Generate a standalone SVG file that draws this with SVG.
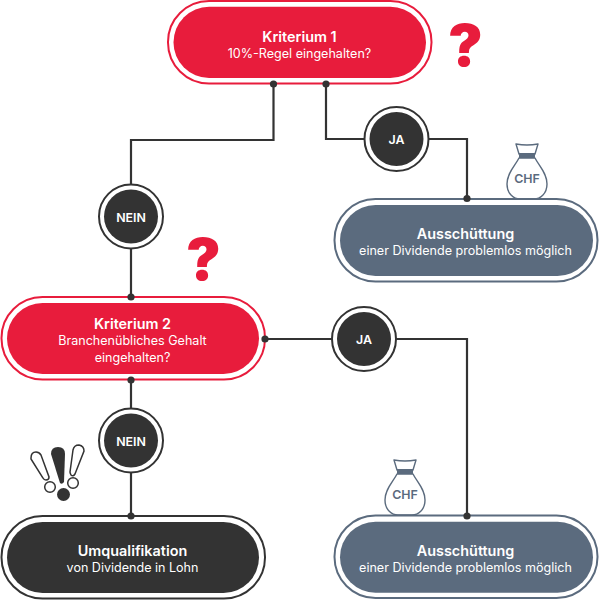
<svg xmlns="http://www.w3.org/2000/svg" width="600" height="600" viewBox="0 0 600 600">
<style>
text{font-family:"Inter","Lato","Liberation Sans",sans-serif;text-anchor:middle}
.t{font-size:14.4px;font-weight:600;fill:#fff}
.s{font-size:12.55px;font-weight:400;fill:#fff}
.c{font-size:12.4px;font-weight:600;fill:#fff}
.q{font-size:58px;font-weight:900;fill:#e81c3c}
.chf{font-size:12.4px;font-weight:600;fill:#5b6b7e}
.line{fill:none;stroke:#333;stroke-width:2.2}
.dot{fill:#333}
.red{fill:#e81c3c}.redo{fill:#fff;stroke:#e81c3c;stroke-width:2}
.slate{fill:#5b6b7e}.slateo{fill:#fff;stroke:#5b6b7e;stroke-width:2}
.dark{fill:#333}.darko{fill:#fff;stroke:#333;stroke-width:2}
.bag{fill:#fff;stroke:#5b6b7e;stroke-width:1.4;stroke-linejoin:round}
</style>
<defs>
<g id="bag">
<path class="bag" d="M-8,-27 L-11,-37 Q0,-35 11,-37 L8,-27 Z"/>
<path class="bag" d="M-8,-23 C-12,-15 -20,-8 -20,3 C-20,13 -13,18 -7,18 L7,18 C13,18 20,13 20,3 C20,-8 12,-15 8,-23 Z"/>
<path d="M-8,-28 L8,-28 L8,-23 L-8,-23 Z" fill="#5b6b7e"/>
</g>
<g id="circ">
<circle r="32" class="darko"/><circle r="27" class="dark"/>
</g>
</defs>
<g id="connectors">
<path class="line" d="M273.5,84V140H131V297"/>
<path class="line" d="M326,84V139H467V198"/>
<path class="line" d="M131,380V516"/>
<path class="line" d="M265,339H467V516"/>
</g>
<g id="k1">
<rect class="redo" x="168" y="1" width="263.500" height="82.500" rx="41"/>
<rect class="red" x="173.500" y="6.700" width="252.500" height="71.300" rx="35.600"/>
<text class="t" x="299.500" y="41.500">Kriterium 1</text>
<text class="s" x="299.500" y="57.500">10%-Regel eingehalten?</text>
</g>
<g id="q1"><text class="q" x="465.500" y="66">?</text></g>
<g id="ja1"><use href="#circ" x="396.500" y="139"/><text class="c" x="396.500" y="144.300">JA</text></g>
<g id="bag1"><use href="#bag" x="527" y="181"/><text class="chf" x="527" y="182.500">CHF</text></g>
<g id="a1">
<rect class="slateo" x="334.500" y="199" width="263" height="82.500" rx="41"/>
<rect class="slate" x="340" y="205" width="253" height="71" rx="35.500"/>
<text class="t" x="465.500" y="239">Ausschüttung</text>
<text class="s" x="465.500" y="255">einer Dividende problemlos möglich</text>
</g>
<g id="nein1"><use href="#circ" x="131" y="216.500"/><text class="c" x="131" y="221.700">NEIN</text></g>
<g id="q2"><text class="q" x="203.500" y="280">?</text></g>
<g id="k2">
<rect class="redo" x="1.500" y="297" width="263.500" height="82.500" rx="41"/>
<rect class="red" x="7" y="303" width="252" height="71" rx="35.500"/>
<text class="t" x="132.500" y="329">Kriterium 2</text>
<text class="s" x="132.500" y="345">Branchenübliches Gehalt</text>
<text class="s" x="132.500" y="361.700">eingehalten?</text>
</g>
<g id="ja2"><use href="#circ" x="364" y="339"/><text class="c" x="364" y="344.300">JA</text></g>
<g id="nein2"><use href="#circ" x="131" y="440.500"/><text class="c" x="131" y="446.300">NEIN</text></g>
<g id="warn">
<path d="M51,454 Q51,447 58,447 Q65,447 65,454 L64,482 Q62,485 60,483 Z" fill="#333"/>
<circle cx="63.500" cy="494.500" r="6.500" fill="#333"/>
<path d="M31,458 Q31,452 36,452 Q39,452 41,455 L49,477 Q49,480 46,480 Q44,480 43,478 L31,459 Z" fill="#fff" stroke="#333" stroke-width="1.500"/>
<circle cx="50" cy="487" r="5.300" fill="#fff" stroke="#333" stroke-width="1.500"/>
<path d="M73,450 Q74,445 79,445 Q84,446 84,451 L75,474 Q73,477 71,475 Q70,473 70,472 Z" fill="#fff" stroke="#333" stroke-width="1.500"/>
<circle cx="73" cy="483" r="5.300" fill="#fff" stroke="#333" stroke-width="1.500"/>
</g>
<g id="u">
<rect class="darko" x="1.500" y="516" width="263.500" height="82.500" rx="41"/>
<rect class="dark" x="7" y="522" width="252" height="71" rx="35.500"/>
<text class="t" x="132.500" y="555.500">Umqualifikation</text>
<text class="s" x="132.500" y="571.700">von Dividende in Lohn</text>
</g>
<g id="bag2"><use href="#bag" x="405" y="497"/><text class="chf" x="405" y="499">CHF</text></g>
<g id="a2">
<rect class="slateo" x="334.500" y="515.500" width="263" height="82.500" rx="41"/>
<rect class="slate" x="340" y="521.700" width="253" height="71" rx="35.500"/>
<text class="t" x="465.500" y="556">Ausschüttung</text>
<text class="s" x="465.500" y="572">einer Dividende problemlos möglich</text>
</g>
<g id="connector-dots">
<circle class="dot" cx="273.500" cy="84" r="3.600"/>
<circle class="dot" cx="326" cy="84" r="3.600"/>
<circle class="dot" cx="467" cy="198.500" r="3.600"/>
<circle class="dot" cx="131" cy="297" r="3.600"/>
<circle class="dot" cx="131" cy="380" r="3.600"/>
<circle class="dot" cx="265" cy="339" r="3.600"/>
<circle class="dot" cx="131" cy="516" r="3.600"/>
<circle class="dot" cx="467" cy="516" r="3.600"/>
</g>
</svg>
